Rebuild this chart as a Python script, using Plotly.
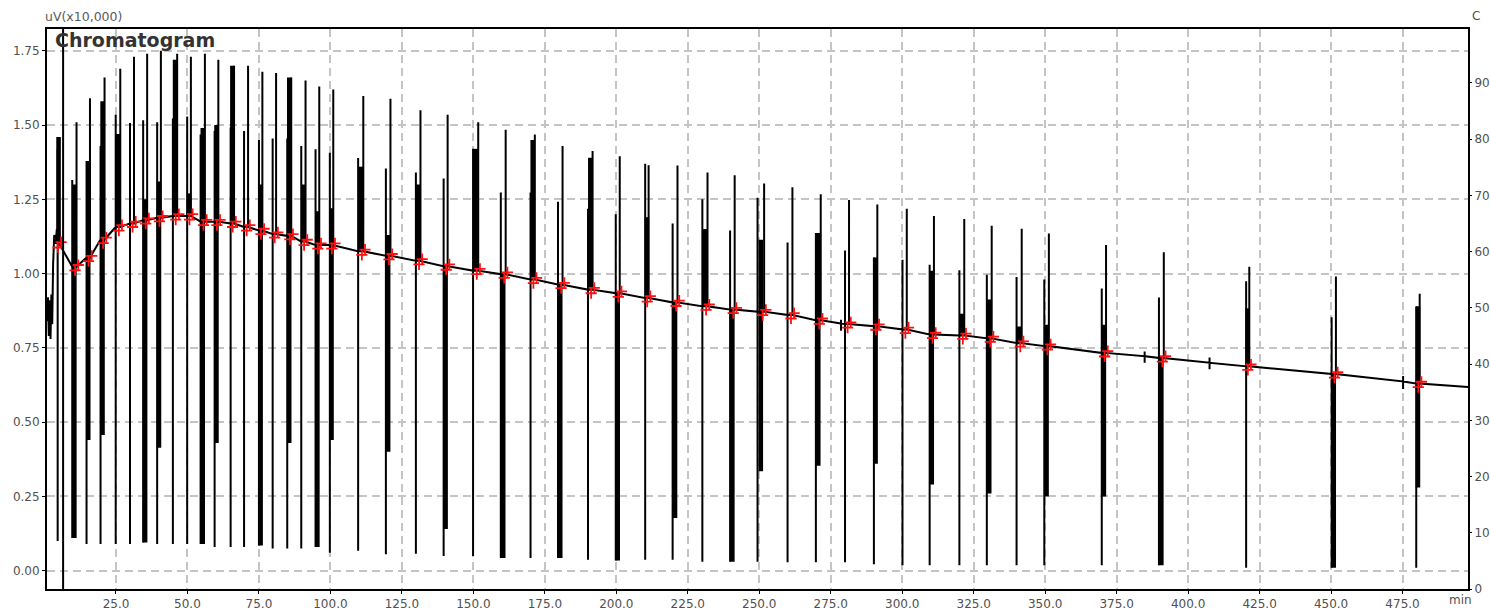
import plotly.graph_objects as go

# ---------------- data ----------------
# leading noisy section before the first injection
start_t = [0.9, 1.2, 1.5, 1.8, 2.1, 2.4, 2.7, 3.0, 3.4, 3.9, 4.3]
start_v = [0.84, 0.92, 0.79, 0.91, 0.78, 0.93, 0.83, 1.03, 1.13, 1.10, 1.15]

# injection events (minutes / signal x10,000 uV)
evt_t1 = [4.6, 9.7, 14.7, 19.6, 24.9, 29.9, 34.5, 39.4, 44.9, 49.9, 54.6, 59.5, 65.1, 69.8, 75.0,
          79.8, 84.9, 89.8, 94.8, 99.8, 109.7, 119.4, 129.9, 139.6, 149.9, 159.6, 170.0, 179.6,
          190.1, 199.8, 210.1, 219.7, 230.1, 239.8, 249.4, 259.9, 269.8, 280.0, 290.1, 300.1,
          309.6, 320.0, 329.6, 340.0, 349.7, 369.8, 389.8, 420.3, 450.2, 479.8]
evt_t2 = [5.2, 11.2, 15.9, 21.0, 26.5, 31.3, 35.9, 40.7, 46.4, 51.2, 56.1, 60.8, 66.3, 71.2, 76.2,
          81.0, 86.3, 91.3, 96.1, 101.0, 111.5, 121.0, 131.5, 141.0, 151.7, 161.3, 171.5, 181.2,
          191.7, 201.2, 211.3, 221.4, 231.9, 241.4, 251.7, 261.6, 271.5, 281.4, 291.3, 301.6,
          311.1, 321.7, 331.3, 341.8, 351.3, 371.3, 391.5, 421.4, 451.7, 481.0]
evt_base = [1.10, 1.023, 1.054, 1.115, 1.157, 1.169, 1.18, 1.188, 1.194, 1.194, 1.175, 1.175, 1.169,
            1.157, 1.145, 1.133, 1.127, 1.108, 1.096, 1.096, 1.075, 1.06, 1.043, 1.025, 1.01, 0.998,
            0.98, 0.963, 0.946, 0.934, 0.918, 0.903, 0.89, 0.879, 0.872, 0.861, 0.843, 0.83, 0.823,
            0.812, 0.795, 0.792, 0.782, 0.766, 0.756, 0.733, 0.716, 0.688, 0.662, 0.63]
evt_up1 = [1.42, 1.315, 1.379, 1.43, 1.535, 1.507, 1.516, 1.51, 1.522, 1.529, 1.468, 1.48, 1.492,
           1.48, 1.45, 1.455, 1.455, 1.43, 1.419, 1.407, 1.389, 1.354, 1.34, 1.32, 1.42, 1.273,
           1.273, 1.242, 1.218, 1.20, 1.37, 1.169, 1.25, 1.145, 1.255, 1.105, 1.137, 1.078, 1.054,
           1.047, 1.03, 1.011, 0.996, 0.989, 0.98, 0.95, 0.92, 0.974, 0.853, 0.889]
evt_up2 = [1.46, 1.51, 1.59, 1.66, 1.69, 1.73, 1.74, 1.75, 1.74, 1.73, 1.74, 1.72, 1.70, 1.70, 1.68,
           1.675, 1.66, 1.65, 1.63, 1.62, 1.598, 1.589, 1.55, 1.535, 1.51, 1.484, 1.468, 1.43,
           1.413, 1.395, 1.365, 1.364, 1.34, 1.331, 1.303, 1.291, 1.267, 1.248, 1.233, 1.218,
           1.194, 1.184, 1.161, 1.151, 1.135, 1.096, 1.072, 1.023, 0.99, 0.932]
evt_dn = [0.10, 0.11, 0.09, 0.09, 0.09, 0.09, 0.095, 0.09, 0.09, 0.09, 0.09, 0.08, 0.08, 0.08, 0.085,
          0.075, 0.075, 0.075, 0.08, 0.06, 0.067, 0.055, 0.057, 0.049, 0.049, 0.043, 0.043, 0.043,
          0.037, 0.034, 0.037, 0.037, 0.03, 0.03, 0.03, 0.028, 0.028, 0.028, 0.022, 0.018, 0.018,
          0.018, 0.018, 0.018, 0.018, 0.018, 0.018, 0.01, 0.01, 0.01]
# dense (filled) parts of each injection pulse; None = no dense part on that side
blk_hi = [1.46, 1.30, 1.379, 1.58, 1.47, None, 1.25, 1.31, 1.72, 1.27, 1.49, 1.50, 1.70, None, 1.30,
          None, 1.66, 1.30, 1.21, 1.22, 1.36, 1.13, 1.30, None, 1.42, None, 1.45, None, 1.39, None,
          1.19, None, 1.15, None, 1.114, None, 1.137, None, 1.054, None, 1.01, 0.865, 0.913, 0.822,
          0.828, 0.828, None, 0.883, None, 0.89]
blk_lo = [None, 0.11, 0.44, 0.457, None, None, 0.095, 0.414, None, None, 0.09, 0.43, None, None, 0.085,
          None, 0.43, None, 0.08, 0.44, None, 0.40, None, 0.14, None, 0.043, None, 0.043, None, 0.034,
          None, 0.177, None, 0.03, 0.335, None, 0.353, None, 0.36, None, 0.29, None, 0.26, None,
          0.25, 0.25, 0.018, None, 0.01, 0.28]

# small baseline disturbances
blip_t = [278.6, 384.8, 407.5, 475.2]
blip_base = [0.832, 0.722, 0.70, 0.637]
blip_hi = [0.845, 0.738, 0.718, 0.655]
blip_lo = [0.808, 0.70, 0.678, 0.612]

tail_t = [497.9]
tail_v = [0.618]

marker_t = 6.5          # vertical event marker line

x_ticks = [25, 50, 75, 100, 125, 150, 175, 200, 225, 250, 275, 300, 325, 350, 375, 400, 425, 450, 475]
y_ticks = [0.0, 0.25, 0.5, 0.75, 1.0, 1.25, 1.5, 1.75]
y2_ticks = [0, 10, 20, 30, 40, 50, 60, 70, 80, 90]

n = len(evt_t1)
assert all(len(a) == n for a in [evt_t2, evt_base, evt_up1, evt_up2, evt_dn, blk_hi, blk_lo])

# ---------------- build the trace ----------------
items = [(evt_t1[i], "e", i) for i in range(n)] + [(blip_t[j], "b", j) for j in range(len(blip_t))]
items.sort()

mx, my = list(start_t), list(start_v)
for _, kind, i in items:
    if kind == "e":
        t1, t2, b = evt_t1[i], evt_t2[i], evt_base[i]
        mx += [t1, t1, t1, t1, t2, t2, t2]
        my += [b, evt_dn[i], evt_up1[i], b, b, evt_up2[i], b]
    else:
        t, b = blip_t[i], blip_base[i]
        mx += [t, t, t, t]
        my += [b, blip_hi[i], blip_lo[i], b]
mx += tail_t
my += tail_v

bx, by = [], []
for i in range(n):
    if blk_hi[i] is None and blk_lo[i] is None:
        continue
    xm = (evt_t1[i] + evt_t2[i]) / 2
    lo = blk_lo[i] if blk_lo[i] is not None else evt_base[i]
    hi = blk_hi[i] if blk_hi[i] is not None else evt_base[i]
    bx += [xm, xm, None]
    by += [lo, hi, None]

rx, ry = [], []
for i in range(n):
    rx += [evt_t2[i] - 0.5, evt_t2[i] + 0.6]
    ry += [evt_base[i] - 0.012, evt_base[i] + 0.006]

fig = go.Figure()
fig.add_trace(go.Scatter(x=mx, y=my, mode="lines",
                         line=dict(color="black", width=2, simplify=False),
                         hoverinfo="skip", showlegend=False))
fig.add_trace(go.Scatter(x=bx, y=by, mode="lines",
                         line=dict(color="black", width=4.5, simplify=False),
                         hoverinfo="skip", showlegend=False))
fig.add_trace(go.Scatter(x=rx, y=ry, mode="markers",
                         marker=dict(symbol="cross-thin", size=8,
                                     line=dict(color="#ff1010", width=1.8)),
                         hoverinfo="skip", showlegend=False))
# temperature axis (right) has no plotted series; an empty trace just activates it
fig.add_trace(go.Scatter(x=[None], y=[None], yaxis="y2", mode="lines",
                         hoverinfo="skip", showlegend=False))

fig.add_vline(x=marker_t, line_color="black", line_width=2)

tick_font = dict(family="DejaVu Sans, Arial, sans-serif", size=12, color="#505050")
grid = dict(showgrid=True, gridcolor="#c4c4c4", gridwidth=1.5, griddash="8px,5px")

fig.update_layout(
    width=1490, height=613,
    margin=dict(l=47, r=22, t=29, b=24, autoexpand=False),
    paper_bgcolor="white", plot_bgcolor="white",
    showlegend=False,
    xaxis=dict(range=[0.87, 497.9], tickmode="array", tickvals=x_ticks,
               ticktext=[f"{v:.1f}" for v in x_ticks], automargin=False,
               ticks="outside", ticklen=3, tickcolor="black",
               showline=True, linecolor="black", linewidth=2, mirror=True,
               zeroline=False, tickfont=tick_font, **grid),
    yaxis=dict(range=[-0.0617, 1.8235], tickmode="array", tickvals=y_ticks,
               ticktext=[f"{v:.2f}" for v in y_ticks], automargin=False,
               ticks="outside", ticklen=3, tickcolor="black",
               showline=True, linecolor="black", linewidth=2, mirror=True,
               zeroline=False, tickfont=tick_font, **grid),
    yaxis2=dict(overlaying="y", side="right", range=[0, 99.6], tickmode="array",
                tickvals=y2_ticks, ticktext=[str(v) for v in y2_ticks], automargin=False,
                ticks="outside", ticklen=3, tickcolor="black",
                showgrid=False, zeroline=False, showline=False, tickfont=tick_font),
    annotations=[
        dict(text="<b>Chromatogram</b>", xref="paper", yref="paper", x=0.004, y=1.004,
             xanchor="left", yanchor="top", showarrow=False,
             font=dict(family="DejaVu Sans, Arial, sans-serif", size=19, color="#333333")),
        dict(text="uV(x10,000)", xref="paper", yref="paper", x=-0.003, y=1.023,
             xanchor="left", yanchor="middle", showarrow=False,
             font=dict(family="DejaVu Sans, Arial, sans-serif", size=12.5, color="#5a5a5a")),
        dict(text="C", xref="paper", yref="paper", x=1.0056, y=1.023,
             xanchor="center", yanchor="middle", showarrow=False,
             font=dict(family="DejaVu Sans, Arial, sans-serif", size=12, color="#505050")),
        dict(text="min", xref="paper", yref="paper", x=0.9944, y=-0.0196,
             xanchor="center", yanchor="middle", showarrow=False,
             font=dict(family="DejaVu Sans, Arial, sans-serif", size=12, color="#505050")),
    ],
)

fig.write_html("out.html", config={"displayModeBar": False},
               post_script="document.body.style.margin='0';document.body.style.overflow='hidden';")
